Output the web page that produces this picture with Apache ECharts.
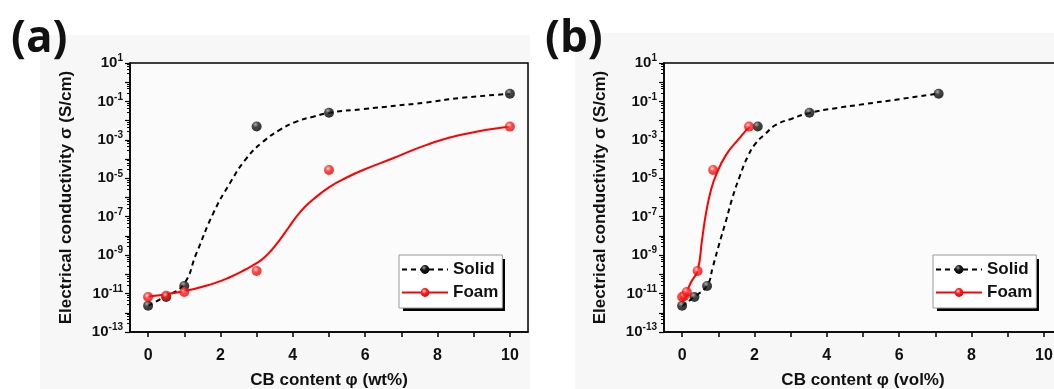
<!DOCTYPE html>
<html>
<head>
<meta charset="utf-8">
<script src="https://cdn.jsdelivr.net/npm/echarts@6/dist/echarts.min.js"></script>
<style>
  html, body { margin: 0; padding: 0; background: #fff; }
  #chart { width: 1054px; height: 389px; }
</style>
</head>
<body>
<div id="chart"></div>
<script>
// measured points, wt% panel (a)
const solidWt = [[0, 2.3e-12], [0.5, 6.6e-12], [1, 2.5e-11], [3, 5.0e-3], [5, 2.6e-2], [10, 0.25]];
const foamWt = [[0, 6.6e-12], [0.5, 7.6e-12], [1, 1.2e-11], [3, 1.5e-10], [5, 2.7e-5], [10, 4.9e-3]];

// measured points, vol% panel (b)
const solidVol = [[0, 2.3e-12], [0.34, 6.6e-12], [0.69, 2.5e-11], [2.09, 5.0e-3], [3.52, 2.6e-2], [7.09, 0.25]];
const foamVol = [[0, 6.6e-12], [0.06, 7.6e-12], [0.13, 1.2e-11], [0.43, 1.5e-10], [0.86, 2.7e-5], [1.85, 4.9e-3]];

// fitted curves
const solidWtFit = [[0, 2.3e-12], [0.5, 7.6e-12], [0.97, 2.8e-11], [1.34, 1.3e-9], [1.8, 1.5e-7], [2.26, 5.5e-6],
  [2.72, 1.1e-4], [3.18, 8.1e-4], [3.64, 3.3e-3], [4.1, 8.9e-3], [4.56, 1.6e-2], [5.02, 2.6e-2],
  [5.94, 4.0e-2], [7.7, 8.9e-2], [8.62, 0.15], [10, 0.25]];
const foamWtFit = [[0, 7.1e-12], [0.88, 1.2e-11], [1.8, 3.3e-11], [2.26, 7.1e-11], [2.72, 1.9e-10], [3.0, 3.8e-10],
  [3.18, 6.6e-10], [3.41, 1.8e-9], [3.64, 6.3e-9], [3.87, 2.5e-8], [4.1, 1.0e-7], [4.33, 3.2e-7],
  [4.56, 7.9e-7], [5.02, 3.6e-6], [5.49, 1.1e-5], [5.94, 2.7e-5], [6.77, 1.1e-4], [7.7, 5.5e-4],
  [8.62, 1.8e-3], [10, 4.9e-3]];
const solidVolFit = [[0, 2.2e-12], [0.34, 6.8e-12], [0.69, 2.6e-11], [0.85, 2.5e-10], [1.03, 4.1e-9], [1.22, 6.8e-8],
  [1.4, 1.1e-6], [1.59, 1.2e-5], [1.81, 1.3e-4], [2.04, 6.8e-4], [2.32, 2.2e-3], [2.59, 6.0e-3],
  [3.05, 1.3e-2], [3.51, 2.5e-2], [4.16, 4.2e-2], [5, 7.1e-2], [6, 0.13], [7.09, 0.26]];
const foamVolFit = [[0, 6.8e-12], [0.13, 1.4e-11], [0.25, 4.0e-11], [0.43, 1.6e-10], [0.55, 6.0e-9], [0.66, 1.5e-7],
  [0.8, 2.5e-6], [0.94, 1.5e-5], [1.22, 1.7e-4], [1.58, 1.2e-3], [1.86, 4.9e-3]];

const xTicks = [0, 1, 2, 3, 4, 5, 6, 7, 8, 9, 10];
const xLabels = [0, 2, 4, 6, 8, 10];
const yLabelExps = [1, -1, -3, -5, -7, -9, -11, -13];

const FONT = '"Liberation Sans", Arial, sans-serif';
const BLACK_DOT = {
  type: 'radial', x: 0.38, y: 0.3, r: 0.7,
  colorStops: [{ offset: 0, color: '#9a9a9a' }, { offset: 0.4, color: '#1a1a1a' }, { offset: 1, color: '#000' }],
};
const RED_DOT = {
  type: 'radial', x: 0.4, y: 0.35, r: 0.7,
  colorStops: [{ offset: 0, color: '#ffd0d0' }, { offset: 0.4, color: '#ff2020' }, { offset: 1, color: '#e00000' }],
};

const chart = echarts.init(document.getElementById('chart'), null, { renderer: 'canvas' });

function makeXAxis(gridIndex, title) {
  return {
    type: 'value',
    gridIndex,
    min: -0.5,
    max: 10.5,
    name: title,
    nameLocation: 'middle',
    nameGap: 40,
    nameTextStyle: { fontFamily: FONT, fontWeight: 'bold', fontSize: 17, color: '#111' },
    axisLine: { show: true, onZero: false, lineStyle: { color: '#000', width: 1.5 } },
    axisTick: { show: true, length: 5, customValues: xTicks, lineStyle: { color: '#000', width: 1.5 } },
    axisLabel: {
      customValues: xLabels,
      margin: 16,
      fontFamily: FONT, fontWeight: 'bold', fontSize: 16, color: '#111',
    },
    splitLine: { show: false },
  };
}

function makeYAxis(gridIndex) {
  return {
    type: 'log',
    logBase: 10,
    gridIndex,
    min: 1e-13,
    max: 10,
    interval: 1,
    name: 'Electrical conductivity σ (S/cm)',
    nameLocation: 'middle',
    nameRotate: 90,
    nameGap: 55,
    nameTextStyle: { fontFamily: FONT, fontWeight: 'bold', fontSize: 17, color: '#111' },
    axisLine: { show: true, onZero: false, lineStyle: { color: '#000', width: 1.5 } },
    axisTick: { show: true, length: 5, lineStyle: { color: '#000', width: 1.2 } },
    minorTick: { show: true, splitNumber: 5, length: 3, lineStyle: { color: '#000', width: 1 } },
    axisLabel: {
      margin: 7,
      formatter: (v) => {
        const e = Math.round(Math.log10(v));
        if (yLabelExps.indexOf(e) < 0) return '';
        return '{b|10}{s|' + e + '}';
      },
      rich: {
        b: { fontFamily: FONT, fontWeight: 'bold', fontSize: 15, color: '#111' },
        s: { fontFamily: FONT, fontWeight: 'bold', fontSize: 10, color: '#111', padding: [0, 0, 9, 0] },
      },
    },
    splitLine: { show: false },
  };
}

function makeLegend(left) {
  return {
    left,
    top: 255,
    orient: 'vertical',
    data: ['Solid', 'Foam'],
    selectedMode: false,
    itemWidth: 46,
    itemHeight: 11,
    itemGap: 6,
    padding: [6, 4, 7, 2],
    backgroundColor: '#fff',
    borderColor: '#999',
    borderWidth: 1,
    textStyle: { fontFamily: FONT, fontWeight: 'bold', fontSize: 17, color: '#111' },
  };
}

// offset black box behind each legend (drop shadow of the legend frame)
function legendShadow(left) {
  return { type: 'rect', z: 3, silent: true, shape: { x: left + 4, y: 259, width: 102, height: 52 }, style: { fill: '#000' } };
}

function fitSeries(name, data, idx, color, dot, dashed) {
  return {
    name,
    type: 'line',
    xAxisIndex: idx,
    yAxisIndex: idx,
    data,
    smooth: 0.5,
    symbol: 'circle',
    symbolSize: 9,
    showSymbol: false,
    itemStyle: { color: dot },
    lineStyle: { color, width: 2, type: dashed ? [5, 4] : 'solid' },
    z: 2,
  };
}

function dotSeries(name, data, idx, dot) {
  return {
    name,
    type: 'scatter',
    xAxisIndex: idx,
    yAxisIndex: idx,
    data,
    symbol: 'circle',
    symbolSize: 10,
    itemStyle: { color: dot },
    z: 3,
  };
}

const option = {
  animation: false,
  backgroundColor: '#fff',
  graphic: [
    { type: 'rect', z: -10, shape: { x: 40, y: 35, width: 490, height: 354 }, style: { fill: '#f7f7f7' }, silent: true },
    { type: 'rect', z: -10, shape: { x: 575, y: 33, width: 479, height: 356 }, style: { fill: '#f7f7f7' }, silent: true },
    legendShadow(399),
    legendShadow(933),
    { type: 'text', left: 11, top: 17, style: { text: '(a)', font: 'bold 44px "Open Sans", Lato, sans-serif', fill: '#111' } },
    { type: 'text', left: 545, top: 17, style: { text: '(b)', font: 'bold 44px "Open Sans", Lato, sans-serif', fill: '#111' } },
  ],
  grid: [
    { left: 130, top: 63, width: 398, height: 269, outerBoundsMode: 'none', containLabel: false,
      show: true, backgroundColor: '#fbfbfb', borderColor: '#000', borderWidth: 1.5 },
    { left: 664, top: 63, width: 398, height: 269, outerBoundsMode: 'none', containLabel: false,
      show: true, backgroundColor: '#fbfbfb', borderColor: '#000', borderWidth: 1.5 },
  ],
  legend: [makeLegend(399), makeLegend(933)],
  xAxis: [makeXAxis(0, 'CB content φ (wt%)'), makeXAxis(1, 'CB content φ (vol%)')],
  yAxis: [makeYAxis(0), makeYAxis(1)],
  series: [
    fitSeries('Solid', solidWtFit, 0, '#000', BLACK_DOT, true),
    fitSeries('Foam', foamWtFit, 0, '#ff0000', RED_DOT, false),
    dotSeries('Solid', solidWt, 0, BLACK_DOT),
    dotSeries('Foam', foamWt, 0, RED_DOT),
    fitSeries('Solid', solidVolFit, 1, '#000', BLACK_DOT, true),
    fitSeries('Foam', foamVolFit, 1, '#ff0000', RED_DOT, false),
    dotSeries('Solid', solidVol, 1, BLACK_DOT),
    dotSeries('Foam', foamVol, 1, RED_DOT),
  ],
};

chart.setOption(option);
</script>
</body>
</html>
